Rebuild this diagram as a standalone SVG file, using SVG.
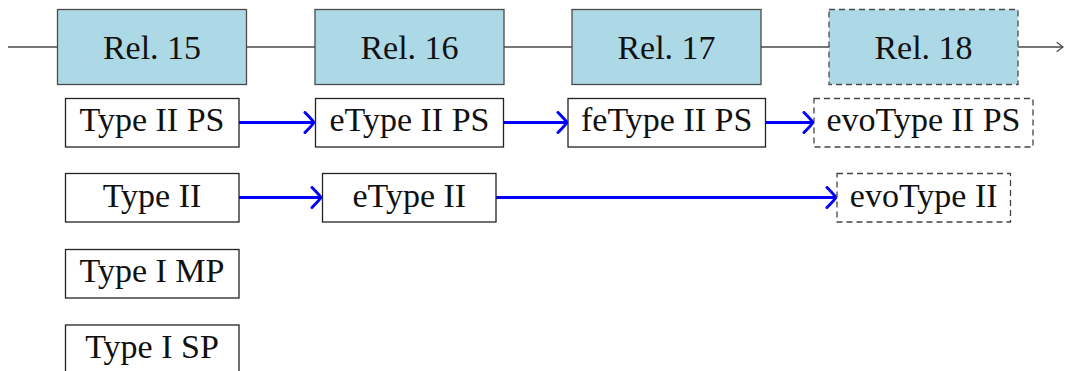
<svg xmlns="http://www.w3.org/2000/svg" width="1065" height="371" viewBox="0 0 1065 371">
<style>
  text { font-family: "Liberation Serif", "Times New Roman", serif; font-size: 34px; fill: #111; text-anchor: middle; }
  .rel { fill: #add8e6; stroke: #4a4a4a; stroke-width: 1.3; }
  .rel.dash { stroke-dasharray: 6 4; }
  .box { fill: #fff; stroke: #222; stroke-width: 1.3; }
  .box.dash { stroke: #444; stroke-dasharray: 6 4; }
  .tl { stroke: #4a4a4a; stroke-width: 1.3; fill: none; }
  .flow { stroke: #0000ff; stroke-width: 3; fill: none; }
</style>
<defs>
  <marker id="blueTo" markerUnits="userSpaceOnUse" markerWidth="14" markerHeight="24" refX="11" refY="12" orient="auto" viewBox="0 0 14 24">
    <path d="M2,2 Q9,9 11,12 Q9,15 2,22" fill="none" stroke="#0000ff" stroke-width="3" stroke-linecap="round"/>
  </marker>
  <marker id="greyTo" markerUnits="userSpaceOnUse" markerWidth="10" markerHeight="12" refX="8" refY="6" orient="auto" viewBox="0 0 10 12">
    <path d="M2,1.5 Q6,4.5 8,6 Q6,7.5 2,10.5" fill="none" stroke="#4a4a4a" stroke-width="1.2" stroke-linecap="round"/>
  </marker>
</defs>
<g id="connectors">
  <path class="tl" d="M8,47 H1063" marker-end="url(#greyTo)"/>
  <path class="flow" d="M239,122.5 H314" marker-end="url(#blueTo)"/>
  <path class="flow" d="M503.5,122.5 H567" marker-end="url(#blueTo)"/>
  <path class="flow" d="M765.5,122.5 H813" marker-end="url(#blueTo)"/>
  <path class="flow" d="M239,197.5 H321" marker-end="url(#blueTo)"/>
  <path class="flow" d="M496,197.5 H836" marker-end="url(#blueTo)"/>
</g>
<g id="rel15"><rect class="rel" x="57.5" y="9.5" width="189" height="75"/><text x="152" y="59">Rel. 15</text></g>
<g id="rel16"><rect class="rel" x="315" y="9.5" width="189" height="75"/><text x="409.5" y="59">Rel. 16</text></g>
<g id="rel17"><rect class="rel" x="572" y="9.5" width="189" height="75"/><text x="666.5" y="59">Rel. 17</text></g>
<g id="rel18"><rect class="rel dash" x="829" y="9.5" width="189" height="75"/><text x="923.5" y="59">Rel. 18</text></g>
<g id="typeIIPS"><rect class="box" x="65.5" y="98.5" width="173.5" height="48.5"/><text x="152" y="131">Type II PS</text></g>
<g id="eTypeIIPS"><rect class="box" x="315.5" y="98.5" width="188" height="48.5"/><text x="409.5" y="131">eType II PS</text></g>
<g id="feTypeIIPS"><rect class="box" x="568" y="98.5" width="197.5" height="48.5"/><text x="666.7" y="131">feType II PS</text></g>
<g id="evoTypeIIPS"><rect class="box dash" x="814" y="98.5" width="219" height="48.5"/><text x="923.5" y="131">evoType II PS</text></g>
<g id="typeII"><rect class="box" x="65.5" y="173.5" width="173.5" height="48.5"/><text x="152" y="206.5">Type II</text></g>
<g id="eTypeII"><rect class="box" x="322.5" y="173.5" width="173.5" height="48.5"/><text x="409.3" y="206.5">eType II</text></g>
<g id="evoTypeII"><rect class="box dash" x="837" y="173.5" width="173.5" height="48.5"/><text x="923.7" y="206.5">evoType II</text></g>
<g id="typeIMP"><rect class="box" x="65.5" y="249.5" width="173.5" height="48.5"/><text x="152" y="282">Type I MP</text></g>
<g id="typeISP"><rect class="box" x="65.5" y="325" width="173.5" height="50"/><text x="152" y="357.7">Type I SP</text></g>
</svg>
